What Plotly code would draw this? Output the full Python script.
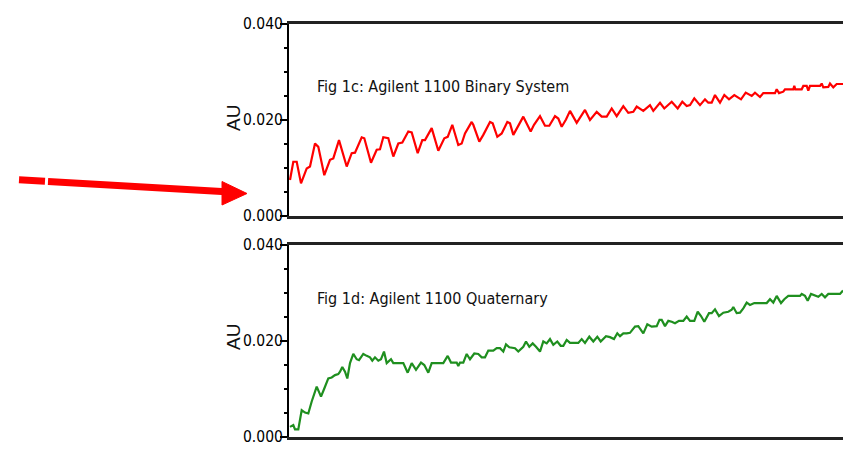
import plotly.graph_objects as go

# ---- data (x in arbitrary run units, y in AU) ----
binary_x = [1, 4.3, 7.7, 12, 17.7, 21, 26, 29.3, 35.3, 41, 44.3, 50, 57.7, 62.7, 66, 72.7, 75.3, 82,
            87.7, 91, 94.3, 99.3, 104.3, 109.3, 113.3, 119.3, 122.7, 128.7, 133.3, 136, 142.7, 149.3,
            155.3, 158.7, 163.3, 169.3, 172.7, 176, 182.7, 184.3, 190.3, 194.3, 201, 203.7, 208.3,
            212.7, 218.3, 221, 224.3, 227.7, 234.3, 241.7, 245, 251, 256, 260.3, 266, 269.3, 272.7,
            277, 281, 287.7, 296, 301, 307.7, 312.7, 317.7, 322.7, 327.7, 334.3, 339.3, 344.3, 347.7,
            354.3, 361, 364.3, 371, 375.3, 382.7, 388.7, 393.3, 397.7, 401, 405.3, 411, 416, 419.3,
            422.7, 426, 431, 435.3, 440, 445.3, 452, 456.7, 462.7, 466, 471, 474.3, 486, 487.7, 490,
            494.3, 496, 504.3, 505.3, 506.3, 512.7, 514.3, 517.7, 519.3, 521, 531, 532.7, 534.3,
            539.3, 541, 544.3, 547.7, 554]
binary_au = [0.0075, 0.0113, 0.0113, 0.0068, 0.0099, 0.0103, 0.0151, 0.0144, 0.0085, 0.0117, 0.0120,
             0.0158, 0.0103, 0.0131, 0.0132, 0.0164, 0.0162, 0.0111, 0.0138, 0.0139, 0.0164, 0.0162,
             0.0124, 0.0151, 0.0153, 0.0176, 0.0174, 0.0131, 0.0158, 0.0158, 0.0183, 0.0136, 0.0162,
             0.0165, 0.0190, 0.0148, 0.0151, 0.0172, 0.0196, 0.0190, 0.0155, 0.0169, 0.0196, 0.0193,
             0.0165, 0.0172, 0.0196, 0.0193, 0.0169, 0.0183, 0.0207, 0.0176, 0.0190, 0.0208, 0.0188,
             0.0188, 0.0208, 0.0203, 0.0186, 0.0201, 0.0219, 0.0194, 0.0221, 0.0200, 0.0217, 0.0207,
             0.0207, 0.0224, 0.0208, 0.0229, 0.0215, 0.0217, 0.0228, 0.0219, 0.0231, 0.0219, 0.0236,
             0.0224, 0.0238, 0.0224, 0.0238, 0.0229, 0.0231, 0.0245, 0.0231, 0.0243, 0.0236, 0.0236,
             0.0252, 0.0236, 0.0252, 0.0243, 0.0252, 0.0243, 0.0257, 0.0250, 0.0257, 0.0248, 0.0256,
             0.0256, 0.0264, 0.0256, 0.0259, 0.0264, 0.0264, 0.0271, 0.0264, 0.0264, 0.0271, 0.0271,
             0.0261, 0.0271, 0.0271, 0.0276, 0.0268, 0.0269, 0.0276, 0.0268, 0.0275, 0.0275]

quat_x = [1, 4.3, 6, 9.3, 12.7, 16, 19.3, 22.7, 27.7, 32, 35.3, 39.3, 42.7, 46, 49.3, 51, 53.3, 56,
          58.3, 61, 64.3, 67.7, 70, 74.3, 77.7, 81, 83.3, 86, 89.3, 92, 95, 97.7, 102, 104.3, 114.3,
          118.7, 122.7, 127, 132, 135.3, 139.3, 142.7, 154.3, 158.7, 162, 167.7, 169.3, 171, 174.3,
          177.7, 181, 185.3, 189.3, 192.7, 196, 199.3, 204.3, 207.7, 211, 214.3, 217, 220.3, 226,
          229.3, 234.3, 237, 240.3, 243.7, 247, 251, 254.3, 257.7, 261, 264.3, 268.3, 271.7, 274.3,
          277.7, 281, 289.3, 292.7, 296, 300.3, 304.3, 308.3, 311.7, 317, 321, 325, 328.3, 331,
          334.3, 337.7, 341, 346, 349.3, 354.3, 358.3, 362.7, 367.7, 370.5, 372.7, 376, 379.3, 382.7,
          386, 390, 394.3, 397.7, 401, 405.3, 408.7, 412, 415.3, 420, 422.7, 426, 430, 434.3, 439.3,
          442.7, 444.3, 447.7, 451, 454.3, 457.7, 461, 465.3, 477.7, 481, 484.3, 487.7, 492, 495.3,
          499.3, 511, 512.7, 516, 518.7, 522, 529.3, 532.7, 536, 539.3, 551, 554]
quat_au = [0.0021, 0.0025, 0.0016, 0.0016, 0.0056, 0.0051, 0.0049, 0.0074, 0.0105, 0.0084, 0.0101,
           0.0122, 0.0124, 0.0129, 0.0131, 0.0136, 0.0146, 0.0136, 0.0122, 0.0154, 0.0173, 0.0162,
           0.0160, 0.0173, 0.0169, 0.0166, 0.0159, 0.0166, 0.0159, 0.0162, 0.0178, 0.0154, 0.0162,
           0.0154, 0.0154, 0.0134, 0.0154, 0.0140, 0.0155, 0.0150, 0.0134, 0.0154, 0.0154, 0.0169,
           0.0155, 0.0155, 0.0148, 0.0155, 0.0155, 0.0173, 0.0162, 0.0174, 0.0173, 0.0166, 0.0166,
           0.0180, 0.0180, 0.0185, 0.0185, 0.0178, 0.0193, 0.0187, 0.0185, 0.0178, 0.0188, 0.0199,
           0.0188, 0.0195, 0.0188, 0.0178, 0.0199, 0.0195, 0.0204, 0.0192, 0.0199, 0.0190, 0.0190,
           0.0202, 0.0196, 0.0196, 0.0204, 0.0196, 0.0209, 0.0199, 0.0209, 0.0199, 0.0210, 0.0208,
           0.0204, 0.0216, 0.0210, 0.0216, 0.0216, 0.0217, 0.0230, 0.0231, 0.0216, 0.0235, 0.0230,
           0.0231, 0.0244, 0.0244, 0.0231, 0.0242, 0.0240, 0.0237, 0.0242, 0.0242, 0.0251, 0.0242,
           0.0242, 0.0261, 0.0252, 0.0240, 0.0258, 0.0258, 0.0266, 0.0252, 0.0259, 0.0261, 0.0265,
           0.0271, 0.0258, 0.0259, 0.0268, 0.0280, 0.0275, 0.0279, 0.0279, 0.0287, 0.0280, 0.0294,
           0.0279, 0.0287, 0.0294, 0.0294, 0.0298, 0.0294, 0.0284, 0.0298, 0.0292, 0.0298, 0.0291,
           0.0298, 0.0298, 0.0305]

tick_vals = [0.0, 0.02, 0.04]
tick_text = ["0.000", "0.020", "0.040"]
titles = ["Fig 1c: Agilent 1100 Binary System", "Fig 1d: Agilent 1100 Quaternary"]
y_title = "AU"

W, H = 843, 451
NARROW = "Liberation Sans Narrow, DejaVu Sans Condensed, Arial Narrow, Liberation Sans, sans-serif"

def px(x):
    return x / W

def py(y):
    return 1 - y / H

fig = go.Figure()
fig.add_trace(go.Scatter(x=binary_x, y=binary_au, mode="lines",
                         line=dict(color="#ff0000", width=2.2), xaxis="x", yaxis="y",
                         showlegend=False, hoverinfo="skip"))
fig.add_trace(go.Scatter(x=quat_x, y=quat_au, mode="lines",
                         line=dict(color="#1f8f1f", width=2.2), xaxis="x2", yaxis="y2",
                         showlegend=False, hoverinfo="skip"))

xdom = [289 / W, 1.0]
top_dom = [py(216), py(24)]
bot_dom = [py(437), py(245)]

xa = dict(domain=xdom, range=[0, 554], showline=True, mirror=True, linecolor="#222222",
          linewidth=3, showticklabels=False, ticks="", showgrid=False, zeroline=False,
          fixedrange=True, automargin=False)
ya = dict(range=[0, 0.04], tickvals=tick_vals, ticktext=tick_text, showline=True,
          linecolor="#000000", linewidth=2, ticks="outside", ticklen=7, tickwidth=2,
          tickcolor="#000000", showgrid=False, zeroline=False, automargin=False,
          ticklabelstandoff=-6, fixedrange=True,
          tickfont=dict(family=NARROW, size=15.5, color="#000000"),
          minor=dict(dtick=0.005, ticks="outside", ticklen=3, tickwidth=2, tickcolor="#000000",
                     showgrid=False))

fig.update_layout(
    template="none",
    width=W, height=H, autosize=False,
    margin=dict(l=0, r=0, t=0, b=0, pad=0, autoexpand=False),
    paper_bgcolor="white", plot_bgcolor="white",
    xaxis=dict(xa, anchor="y"),
    yaxis=dict(ya, domain=top_dom, anchor="x"),
    xaxis2=dict(xa, anchor="y2"),
    yaxis2=dict(ya, domain=bot_dom, anchor="x2"),
)

ann = []
ann.append(dict(text=titles[0], x=px(315), y=py(86), xref="paper", yref="paper",
                xanchor="left", yanchor="middle", showarrow=False,
                font=dict(family=NARROW, size=16, color="#111111")))
ann.append(dict(text=titles[1], x=px(315), y=py(298), xref="paper", yref="paper",
                xanchor="left", yanchor="middle", showarrow=False,
                font=dict(family=NARROW, size=16, color="#111111")))
for yc in (118, 337):
    ann.append(dict(text=y_title, x=px(233), y=py(yc), xref="paper", yref="paper",
                    xanchor="center", yanchor="middle", textangle=-90, showarrow=False,
                    font=dict(family="Liberation Sans, Arial, sans-serif", size=19,
                              color="#111111")))
fig.update_layout(annotations=ann)

# red arrow (decoration)
shapes = [
    dict(type="line", xref="paper", yref="paper", x0=px(19), y0=py(179.8), x1=px(45), y1=py(181.3),
         line=dict(color="#ff0000", width=7)),
    dict(type="line", xref="paper", yref="paper", x0=px(48), y0=py(181.5), x1=px(226), y1=py(191.7),
         line=dict(color="#ff0000", width=7)),
    dict(type="path", xref="paper", yref="paper",
         path=f"M {px(222)} {py(181.5)} L {px(247)} {py(193.5)} L {px(222)} {py(205)} Z",
         fillcolor="#ff0000", line=dict(color="#ff0000", width=1)),
]
fig.update_layout(shapes=shapes)

fig.write_html("out.html")
